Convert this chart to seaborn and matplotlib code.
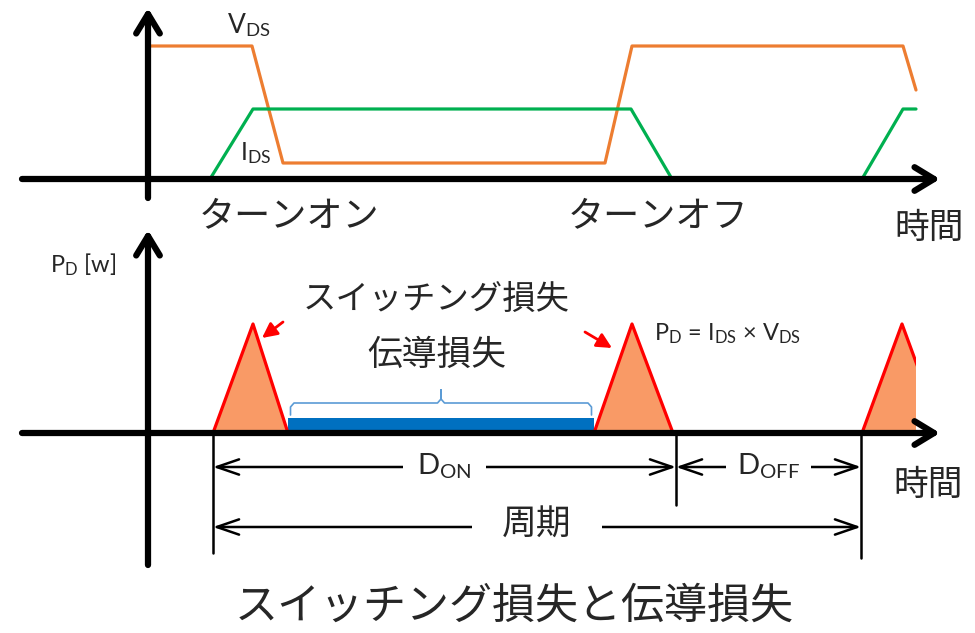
import numpy as np
import matplotlib
matplotlib.use("Agg")
import matplotlib.pyplot as plt
from matplotlib.patches import Rectangle
import seaborn as sns

# DATA  (time axis in arbitrary units, 0 = vertical axis)
# drain-source voltage / current waveforms
t_vds = [0.0, 10.4, 13.5, 45.7, 48.4, 75.5, 76.8]
v_vds = [13.3, 13.3, 1.6, 1.6, 13.3, 13.3, 8.9]
t_ids = [6.2, 10.5, 48.3, 52.4, 71.4, 75.5, 76.8]
i_ids = [0.0, 7.0, 7.0, 0.0, 0.0, 7.0, 7.0]

# switching loss pulses (start, peak, end) and conduction loss
sw_start = [6.5, 44.6, 71.4]
sw_peak = [10.5, 48.4, 75.4]
sw_end = [14.0, 52.5, 79.4]
sw_height = 10.9
cond_start = 14.0
cond_end = 44.6
cond_height = 1.5
t_cut = 76.8  # picture is cut off here

# period / duty markers
t_period_start = 6.5
t_on_end = 52.8
t_period_end = 71.3

# labels
lbl_turn_on = "ターンオン"
lbl_turn_off = "ターンオフ"
lbl_time = "時間"
lbl_switch = "スイッチング損失"
lbl_cond = "伝導損失"
lbl_period = "周期"
lbl_title = "スイッチング損失と伝導損失"

C_VDS = "#ED7D31"
C_IDS = "#00B050"
C_TRI = "#F99A66"
C_BAR = "#0070C0"
C_BRACE = "#5B9BD5"
JP = "Noto Sans CJK JP"

sns.set_theme(style="white")
plt.rcParams["font.family"] = ["Lato", "Noto Sans CJK JP", "DejaVu Sans"]
plt.rcParams["mathtext.fontset"] = "custom"
plt.rcParams["mathtext.rm"] = "Lato"
plt.rcParams["mathtext.it"] = "Lato:italic"
plt.rcParams["mathtext.bf"] = "Lato:bold"

W, H = 975, 633
fig = plt.figure(figsize=(W / 100, H / 100), dpi=100)
fig.patch.set_facecolor("white")

ax1 = fig.add_axes([0, 1 - 250 / H, 1, 250 / H])
ax2 = fig.add_axes([0, 0, 1, 413 / H])
ax1.set_xlim(-14.8, 82.7)
ax1.set_ylim(-7.1, 17.9)
ax2.set_xlim(-14.8, 82.7)
ax2.set_ylim(-20.0, 21.3)
for ax in (ax1, ax2):
    ax.set_axis_off()
    ax.patch.set_alpha(0)


def axis_arrow(ax, x0, y0, x1, y1):
    ax.annotate("", xy=(x1, y1), xytext=(x0, y0), zorder=6,
                arrowprops=dict(arrowstyle="->, head_length=1.4, head_width=0.85",
                                lw=4.5, color="black", mutation_scale=10,
                                shrinkA=0, shrinkB=0))


def dim_arrow(ax, x0, x1, y):
    ax.annotate("", xy=(x1, y), xytext=(x0, y), zorder=3,
                arrowprops=dict(arrowstyle="<->, head_length=1.6, head_width=0.55",
                                lw=1.8, color="black", mutation_scale=10,
                                shrinkA=0, shrinkB=0))


# ---------------- top: waveforms ----------------
sns.lineplot(x=t_vds, y=v_vds, ax=ax1, color=C_VDS, lw=2.3, sort=False, estimator=None)
sns.lineplot(x=t_ids, y=i_ids, ax=ax1, color=C_IDS, lw=2.3, sort=False, estimator=None)
axis_arrow(ax1, -12.6, 0, 79.2, 0)
axis_arrow(ax1, 0, -1.9, 0, 17.1)

ax1.text(7.9, 14.6, "V$_\\mathrm{DS}$", fontsize=19, va="baseline", ha="left")
ax1.text(9.2, 1.9, "I$_\\mathrm{DS}$", fontsize=18, va="baseline", ha="left")
ax1.text(14.1, -3.7, lbl_turn_on, family=JP, fontsize=26, ha="center", va="center")
ax1.text(51.0, -3.7, lbl_turn_off, family=JP, fontsize=26, ha="center", va="center")
ax1.text(78.1, -4.9, lbl_time, family=JP, fontsize=25, ha="center", va="center")

# ---------------- bottom: power dissipation ----------------
clip = Rectangle((-20, -30), t_cut + 20, 60, transform=ax2.transData)
for s, p, e in zip(sw_start, sw_peak, sw_end):
    xs = [s, p, e]
    ys = [0, sw_height, 0]
    f = ax2.fill(xs, ys, color=C_TRI, zorder=2)[0]
    f.set_clip_path(clip)
    ln = ax2.plot(xs, ys, color="red", lw=2.3, zorder=3)[0]
    ln.set_clip_path(clip)

ax2.fill_between([cond_start, cond_end], 0, cond_height, color=C_BAR, lw=0, zorder=2)

# brace over conduction loss
b0, b1 = cond_start + 0.25, cond_end - 0.25
bm = (cond_start + cond_end) / 2
by = 3.0
bx = [b0, b0, b0 + 0.35, bm - 0.35, bm, bm, bm, bm + 0.35, b1 - 0.35, b1, b1]
byy = [1.8, by - 0.4, by, by, by + 0.4, by + 1.3, by + 0.4, by, by, by - 0.4, 1.8]
ax2.plot(bx, byy, color=C_BRACE, lw=1.2, zorder=3)

# red pointer arrows
for tail, tip in [((13.5, 11.1), (11.4, 9.5)), ((43.7, 10.1), (46.4, 8.5))]:
    ax2.annotate("", xy=tip, xytext=tail,
                 arrowprops=dict(arrowstyle="-|>, head_length=0.9, head_width=0.45",
                                 color="red", lw=2, mutation_scale=10,
                                 shrinkA=0, shrinkB=0))

axis_arrow(ax2, -12.6, 0, 79.2, 0)
axis_arrow(ax2, 0, -13.2, 0, 20.3)

# dimension lines
for t, yb in [(t_period_start, -12.0), (t_on_end, -7.2), (t_period_end, -12.5)]:
    ax2.plot([t, t], [0, yb], color="black", lw=1.8, zorder=3)
dim_arrow(ax2, t_period_start, t_on_end, -3.4)
dim_arrow(ax2, t_on_end, t_period_end, -3.4)
dim_arrow(ax2, t_period_start, t_period_end, -9.4)

ax2.text((t_period_start + t_on_end) / 2, -3.3, "D$_\\mathrm{ON}$", fontsize=21,
         ha="center", va="center", zorder=5,
         bbox=dict(facecolor="white", edgecolor="none", pad=10))
ax2.text((t_on_end + t_period_end) / 2, -3.3, "D$_\\mathrm{OFF}$", fontsize=21,
         ha="center", va="center", zorder=5,
         bbox=dict(facecolor="white", edgecolor="none", pad=8))
ax2.text((t_period_start + t_period_end) / 2, -9.2, lbl_period, family=JP, fontsize=25,
         ha="center", va="center", zorder=5,
         bbox=dict(facecolor="white", edgecolor="none", pad=22))

ax2.text(-9.8, 16.1, "P$_\\mathrm{D}$ [w]", fontsize=17, va="baseline", ha="left")
ax2.text(28.8, 13.4, lbl_switch, family=JP, fontsize=24, ha="center", va="center")
ax2.text(28.9, 7.8, lbl_cond, family=JP, fontsize=25, ha="center", va="center")
ax2.text(50.6, 9.3, "P$_\\mathrm{D}$ = I$_\\mathrm{DS}$ $\\times$ V$_\\mathrm{DS}$",
         fontsize=17, va="baseline", ha="left")
ax2.text(78.0, -5.2, lbl_time, family=JP, fontsize=25, ha="center", va="center")

fig.text(514 / W, 1 - 607 / H, lbl_title, family=JP, fontsize=31, ha="center", va="center")

fig.savefig("out.png", dpi=100)
